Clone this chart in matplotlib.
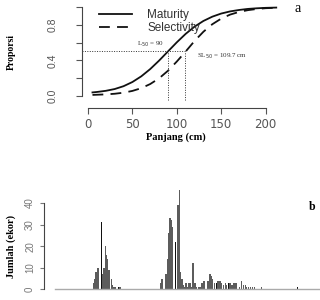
import numpy as np
import matplotlib
matplotlib.use("Agg")
import matplotlib.pyplot as plt

# panel a: logistic curves
panjang = [5, 10, 20, 30, 40, 50, 60, 70, 80, 90, 100, 110, 120, 130, 140, 150,
           160, 170, 180, 190, 200, 212]
maturity = [0.040, 0.045, 0.058, 0.078, 0.110, 0.157, 0.221, 0.302, 0.397, 0.500,
            0.603, 0.698, 0.779, 0.843, 0.891, 0.926, 0.950, 0.966, 0.978, 0.985,
            0.990, 0.993]
selectivity = [0.012, 0.014, 0.018, 0.025, 0.037, 0.057, 0.088, 0.134, 0.198, 0.283,
               0.387, 0.500, 0.618, 0.722, 0.806, 0.869, 0.914, 0.944, 0.964, 0.977,
               0.986, 0.991]
L50 = 90
SL50 = 109.7

# panel b: counts per length class (class position, count)
kelas_abu = [93.3, 95.0, 96.0, 97.3, 98.7, 101.3, 102.7, 104.0, 105.3, 106.3,
             107.7, 109.0, 111.3, 112.7, 114.0, 115.3, 120.0,
             160.7, 162.0, 166.0, 167.3, 168.7, 170.0, 171.3, 172.7, 178.0, 179.3,
             180.7, 182.0, 183.3, 184.7, 186.0, 187.3, 188.7, 190.0, 192.0, 193.0,
             195.0, 196.7, 198.3, 200.0, 202.0, 204.0, 208.0, 210.0, 211.3, 212.7,
             214.7, 218.0, 220.0, 221.3, 223.3, 225.3, 226.7, 230.0, 232.0, 234.0,
             236.0, 239.3, 241.3, 243.3, 245.3, 246.7, 248.7, 250.7, 252.7, 254.7,
             261.3]
jumlah_abu = [3, 5, 8, 10, 10, 8, 7, 10, 20, 16,
              14, 9, 5, 2, 1, 1, 1,
              3, 5, 7, 14, 26, 33, 32, 29, 39, 48,
              8, 5, 2, 1, 3, 1, 3, 3, 1, 12,
              3, 1, 1, 1, 3, 4, 4, 7, 6, 5,
              3, 4, 4, 3, 2, 3, 2, 3, 2, 3,
              3, 1, 4, 2, 2, 1, 1, 1, 1, 1,
              1]
kelas_hitam = [100.0, 101.3, 110.0, 118.3, 174.0, 175.3, 206.0, 216.7, 228.7, 238.0, 297.7]
jumlah_hitam = [11, 31, 9, 1, 42, 22, 4, 3, 3, 2, 1]

serif = ["Liberation Serif", "DejaVu Serif"]
sans = ["Liberation Sans", "DejaVu Sans"]
tick_col = "#444444"

fig = plt.figure(figsize=(3.2, 3.0), dpi=100)

###panel a##########################################################
ax = fig.add_axes([82/320, 1 - 108/300, 208/320, 103/300])
ax.set_xlim(-6.8, 227.5)
ax.set_ylim(-0.135, 1.022)
for s in ["top", "right"]:
    ax.spines[s].set_visible(False)
ax.spines["left"].set_bounds(0, 1)
ax.spines["bottom"].set_bounds(0, 200)
for s in ["left", "bottom"]:
    ax.spines[s].set_color(tick_col)
    ax.spines[s].set_linewidth(0.8)

ax.plot(panjang, maturity, color="#111111", lw=1.3, label="Maturity")
ax.plot(panjang, selectivity, color="#111111", lw=1.3, ls=(0, (6, 4)), label="Selectivity")

ax.plot([-6.8, SL50], [0.5, 0.5], color="#333333", lw=0.7, ls=(0, (1, 1.5)))
ax.plot([L50, L50], [-0.045, 0.5], color="#333333", lw=0.7, ls=(0, (1, 1.5)))
ax.plot([SL50, SL50], [-0.045, 0.5], color="#333333", lw=0.7, ls=(0, (1, 1.5)))

ax.text(L50 - 5, 0.575, r"L$_{50}$ = 90", fontsize=5, family=serif, color="#333333",
        ha="right", va="center")
ax.text(SL50 + 13, 0.45, r"SL$_{50}$ = 109.7 cm", fontsize=5, family=serif,
        color="#333333", ha="left", va="center")

ax.set_xticks([0, 50, 100, 150, 200])
ax.set_yticks([0, 0.2, 0.4, 0.6, 0.8, 1.0])
ax.set_yticklabels(["0.0", "", "0.4", "", "0.8", ""], rotation=90, va="center")
ax.tick_params(axis="x", length=4, pad=3, labelsize=8.5, colors="#555555")
ax.tick_params(axis="y", length=4.3, pad=13.5, labelsize=7.5, colors="#555555")
for t in ax.get_xticklabels():
    t.set_family(["DejaVu Sans"])
for t in ax.get_yticklabels():
    t.set_family(sans)

leg = ax.legend(loc="upper left", bbox_to_anchor=(0.03, 1.06), frameon=False,
                handlelength=2.8, handletextpad=1.3, labelspacing=0.05,
                prop={"family": sans, "size": 8.5})
for t in leg.get_texts():
    t.set_color("#333333")

fig.text(11/320, 1 - 52/300, "Proporsi", rotation=90, ha="center", va="center",
         fontsize=7, fontweight="bold", family=serif)
fig.text(176/320, 1 - 137/300, "Panjang (cm)", ha="center", va="center",
         fontsize=7.5, fontweight="bold", family=serif)
fig.text(298/320, 1 - 9/300, "a", ha="center", va="center", fontsize=10, family=serif)

###panel b##########################################################
bx = fig.add_axes([44/320, 1 - 295/300, 276/320, 105/300])
bx.set_xlim(44, 320)
bx.set_ylim(-2.64, 46.0)
for s in ["top", "right", "bottom"]:
    bx.spines[s].set_visible(False)
bx.spines["left"].set_bounds(0, 40)
bx.spines["left"].set_color(tick_col)
bx.spines["left"].set_linewidth(0.8)

bx.plot([55, 320], [0, 0], color="#aaaaaa", lw=1.0)
bx.bar(kelas_abu, jumlah_abu, width=1.4, color="#5c5c5c", linewidth=0)
bx.bar(kelas_hitam, jumlah_hitam, width=0.9, color="#111111", linewidth=0)

bx.set_xticks([])
bx.set_yticks([0, 10, 20, 30, 40])
bx.set_yticklabels(["0", "10", "20", "30", "40"], rotation=90, va="center")
bx.tick_params(axis="y", length=3, pad=3.4, labelsize=7, colors="#777777")
for t in bx.get_yticklabels():
    t.set_family(sans)

fig.text(11/320, 1 - 246/300, "Jumlah (ekor)", rotation=90, ha="center", va="center",
         fontsize=7.5, fontweight="bold", family=serif)
fig.text(312/320, 1 - 207/300, "b", ha="center", va="center", fontsize=8.5,
         fontweight="bold", family=serif)

fig.savefig("out.png", dpi=100)
